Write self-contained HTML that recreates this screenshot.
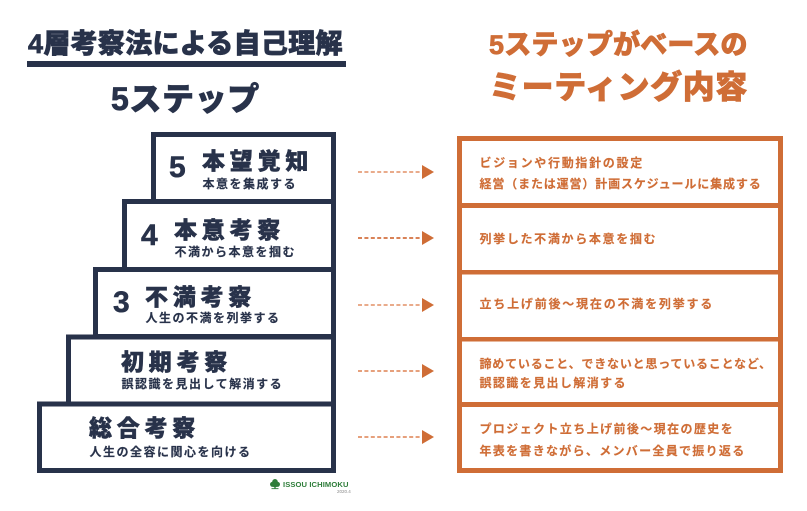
<!DOCTYPE html>
<html><head><meta charset="utf-8">
<style>
html,body{margin:0;padding:0;background:#fff;}
body{width:807px;height:511px;position:relative;overflow:hidden;font-family:"Liberation Sans","Noto Sans CJK JP",sans-serif;}
.t{position:absolute;line-height:1;white-space:nowrap;}
.nv{color:#28324a;}
.or{color:#cf6d36;}
.h{font-size:23px;font-weight:900;letter-spacing:4.8px;-webkit-text-stroke:0.5px currentColor;}
.s{font-size:12px;font-weight:700;letter-spacing:1.5px;-webkit-text-stroke:0.15px currentColor;}
.n{font-size:30px;font-weight:700;font-family:"Liberation Sans",sans-serif;-webkit-text-stroke:0.5px currentColor;}
.r{font-size:12px;font-weight:700;-webkit-text-stroke:0.15px currentColor;}
.tt{-webkit-text-stroke:0.7px currentColor;}
svg{position:absolute;left:0;top:0;}
</style></head>
<body>
<svg width="807" height="511" viewBox="0 0 807 511">
  <!-- underline -->
  <rect x="27" y="61" width="319" height="6" fill="#28324a"/>
  <!-- left stacked boxes -->
  <g fill="none" stroke="#28324a" stroke-width="5">
    <rect x="153.5" y="134.5" width="180" height="67"/>
    <rect x="124.5" y="201.5" width="209" height="68"/>
    <rect x="95.5" y="269.5" width="238" height="67"/>
    <rect x="68.5" y="337" width="265" height="67"/>
    <rect x="39.5" y="404" width="294" height="66.5"/>
  </g>
  <!-- right box -->
  <g fill="#cf6d36">
    <rect x="457" y="136" width="326" height="5"/>
    <rect x="457" y="468" width="326" height="5"/>
    <rect x="457" y="136" width="5" height="337"/>
    <rect x="778" y="136" width="5" height="337"/>
    <rect x="457" y="203" width="326" height="5"/>
    <rect x="457" y="270" width="326" height="4.5"/>
    <rect x="457" y="337" width="326" height="4.5"/>
    <rect x="457" y="402" width="326" height="5"/>
  </g>
  <!-- arrows -->
  <g stroke-width="2" stroke-dasharray="4 2.4">
    <line x1="358" y1="172" x2="422" y2="172" stroke="#e9ab8b"/>
    <line x1="358" y1="238" x2="422" y2="238" stroke="#d98257"/>
    <line x1="358" y1="305" x2="422" y2="305" stroke="#e9ab8b"/>
    <line x1="358" y1="371" x2="422" y2="371" stroke="#e6a07c"/>
    <line x1="358" y1="437" x2="422" y2="437" stroke="#e6a07c"/>
  </g>
  <g fill="#cf6d36">
    <polygon points="422,165 434,172 422,179"/>
    <polygon points="422,231 434,238 422,245"/>
    <polygon points="422,298 434,305 422,312"/>
    <polygon points="422,364 434,371 422,378"/>
    <polygon points="422,430 434,437 422,444"/>
  </g>
  <!-- logo -->
  <g fill="#2e7d3a">
    <circle cx="275" cy="481.8" r="2.8"/>
    <circle cx="272.6" cy="484.3" r="2.6"/>
    <circle cx="277.4" cy="484.3" r="2.6"/>
    <circle cx="275" cy="485" r="2.4"/>
    <rect x="274.4" y="486" width="1.2" height="2.6"/>
    <rect x="271.5" y="488.2" width="7" height="0.9"/>
  </g>
  <text x="283" y="487.2" font-family="Liberation Sans, sans-serif" font-weight="700" font-size="7.6" fill="#2e7d3a" letter-spacing="0.1">ISSOU ICHIMOKU</text>
  <text x="337" y="493" font-family="Liberation Sans, sans-serif" font-size="4.5" fill="#888">2020.4</text>
</svg>

<!-- titles -->
<div class="t nv tt" style="left:28px;top:31px;font-size:27px;font-weight:900;letter-spacing:0.3px;">4層考察法による自己理解</div>
<div class="t nv tt" style="left:111px;top:83px;font-size:32px;font-weight:900;letter-spacing:0.6px;">5ステップ</div>
<div class="t or tt" style="left:489px;top:31.5px;font-size:27px;font-weight:900;letter-spacing:0.2px;">5ステップがベースの</div>
<div class="t or tt" style="left:489px;top:70.5px;font-size:32px;font-weight:900;letter-spacing:0.6px;">ミーティング内容</div>

<!-- box 5 -->
<div class="t nv n" style="left:169px;top:153px;">5</div>
<div class="t nv h" style="left:202px;top:150px;">本望覚知</div>
<div class="t nv s" style="left:202.5px;top:177.5px;">本意を集成する</div>
<!-- box 4 -->
<div class="t nv n" style="left:141px;top:221px;">4</div>
<div class="t nv h" style="left:174px;top:219px;">本意考察</div>
<div class="t nv s" style="left:174.5px;top:246px;">不満から本意を掴む</div>
<!-- box 3 -->
<div class="t nv n" style="left:113px;top:288px;">3</div>
<div class="t nv h" style="left:145px;top:286px;">不満考察</div>
<div class="t nv s" style="left:145.5px;top:312px;">人生の不満を列挙する</div>
<!-- box 2 -->
<div class="t nv h" style="left:121px;top:351px;">初期考察</div>
<div class="t nv s" style="left:121.5px;top:378px;">誤認識を見出して解消する</div>
<!-- box 1 -->
<div class="t nv h" style="left:89px;top:417px;">総合考察</div>
<div class="t nv s" style="left:89.5px;top:446px;">人生の全容に関心を向ける</div>

<!-- right texts -->
<div class="t or r" style="left:479.5px;top:156.5px;letter-spacing:1.7px;">ビジョンや行動指針の設定</div>
<div class="t or r" style="left:479.5px;top:177.5px;letter-spacing:0.86px;">経営（または運営）計画スケジュールに集成する</div>
<div class="t or r" style="left:479.5px;top:232.5px;letter-spacing:1.67px;">列挙した不満から本意を掴む</div>
<div class="t or r" style="left:479.5px;top:297.5px;letter-spacing:1.8px;">立ち上げ前後～現在の不満を列挙する</div>
<div class="t or r" style="left:479.5px;top:357.5px;letter-spacing:0.8px;">諦めていること、できないと思っていることなど、</div>
<div class="t or r" style="left:479.5px;top:376.5px;letter-spacing:1.4px;">誤認識を見出し解消する</div>
<div class="t or r" style="left:479.5px;top:422.5px;letter-spacing:1.4px;">プロジェクト立ち上げ前後～現在の歴史を</div>
<div class="t or r" style="left:479.5px;top:444.5px;letter-spacing:1.3px;">年表を書きながら、メンバー全員で振り返る</div>
</body></html>
